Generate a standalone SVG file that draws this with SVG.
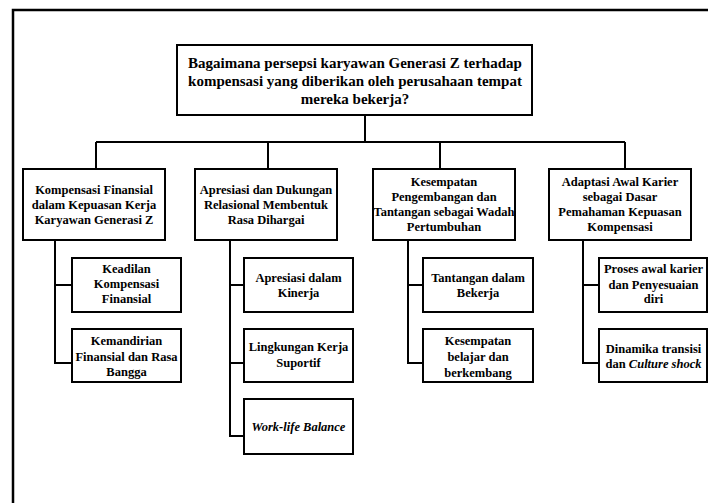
<svg xmlns="http://www.w3.org/2000/svg" width="708" height="503" viewBox="0 0 708 503">
<style>
  .box{fill:#fff;stroke:#000;stroke-width:2}
  .frame{fill:none;stroke:#000;stroke-width:2.5}
  .conn{fill:none;stroke:#000;stroke-width:2}
  text{font-family:"Liberation Serif","Times New Roman",serif;font-weight:bold;fill:#000;text-anchor:middle}
  .t0{font-size:15px}
  .t1{font-size:12.5px}
  .it{font-style:italic}
</style>
<rect width="708" height="503" fill="#fff"/>
<rect class="frame" x="13" y="10" width="720" height="520"/>
<g id="connectors">
  <path class="conn" d="M365 115V142M96 142H625M96 142V169M268 142V169M440 142V169M625 142V169"/>
  <path class="conn" d="M55 240V363H72M55 285H72"/>
  <path class="conn" d="M230 240V436H244M230 285H244M230 363H244"/>
  <path class="conn" d="M408 240V363H423M408 285H423"/>
  <path class="conn" d="M583 240V363H599M583 285H599"/>
</g>
<g id="root">
  <rect class="box" x="177" y="45" width="355" height="70"/>
  <text class="t0" x="355" y="68">Bagaimana persepsi karyawan Generasi Z terhadap</text>
  <text class="t0" x="355" y="86">kompensasi yang diberikan oleh perusahaan tempat</text>
  <text class="t0" x="355" y="104">mereka bekerja?</text>
</g>
<g id="n1">
  <rect class="box" x="23" y="169" width="142" height="71"/>
  <text class="t1" x="94" y="194">Kompensasi Finansial</text>
  <text class="t1" x="94" y="209">dalam Kepuasan Kerja</text>
  <text class="t1" x="94" y="224">Karyawan Generasi Z</text>
</g>
<g id="n2">
  <rect class="box" x="195" y="169" width="142" height="71"/>
  <text class="t1" x="266" y="194">Apresiasi dan Dukungan</text>
  <text class="t1" x="266" y="209">Relasional Membentuk</text>
  <text class="t1" x="266" y="224">Rasa Dihargai</text>
</g>
<g id="n3">
  <rect class="box" x="373" y="169" width="142" height="71"/>
  <text class="t1" x="444" y="186">Kesempatan</text>
  <text class="t1" x="444" y="201">Pengembangan dan</text>
  <text class="t1" x="444" y="216">Tantangan sebagai Wadah</text>
  <text class="t1" x="444" y="231">Pertumbuhan</text>
</g>
<g id="n4">
  <rect class="box" x="549" y="169" width="142" height="71"/>
  <text class="t1" x="620" y="186">Adaptasi Awal Karier</text>
  <text class="t1" x="620" y="201">sebagai Dasar</text>
  <text class="t1" x="620" y="216">Pemahaman Kepuasan</text>
  <text class="t1" x="620" y="231">Kompensasi</text>
</g>
<g id="n1a">
  <rect class="box" x="72" y="258" width="109" height="54"/>
  <text class="t1" x="126.5" y="273">Keadilan</text>
  <text class="t1" x="126.5" y="288">Kompensasi</text>
  <text class="t1" x="126.5" y="303">Finansial</text>
</g>
<g id="n1b">
  <rect class="box" x="72" y="329" width="109" height="53"/>
  <text class="t1" x="126.5" y="345">Kemandirian</text>
  <text class="t1" x="126.5" y="361">Finansial dan Rasa</text>
  <text class="t1" x="126.5" y="376">Bangga</text>
</g>
<g id="n2a">
  <rect class="box" x="244" y="258" width="109" height="54"/>
  <text class="t1" x="298.5" y="282">Apresiasi dalam</text>
  <text class="t1" x="298.5" y="297">Kinerja</text>
</g>
<g id="n2b">
  <rect class="box" x="244" y="329" width="109" height="53"/>
  <text class="t1" x="298.5" y="351">Lingkungan Kerja</text>
  <text class="t1" x="298.5" y="367">Suportif</text>
</g>
<g id="n2c">
  <rect class="box" x="244" y="399" width="109" height="55"/>
  <text class="t1 it" x="298.5" y="431">Work-life Balance</text>
</g>
<g id="n3a">
  <rect class="box" x="423" y="258" width="110" height="54"/>
  <text class="t1" x="478" y="282">Tantangan dalam</text>
  <text class="t1" x="478" y="297">Bekerja</text>
</g>
<g id="n3b">
  <rect class="box" x="423" y="329" width="110" height="53"/>
  <text class="t1" x="478" y="345">Kesempatan</text>
  <text class="t1" x="478" y="361">belajar dan</text>
  <text class="t1" x="478" y="377">berkembang</text>
</g>
<g id="n4a">
  <rect class="box" x="599" y="258" width="108" height="54"/>
  <text class="t1" x="653.5" y="273">Proses awal karier</text>
  <text class="t1" x="653.5" y="289">dan Penyesuaian</text>
  <text class="t1" x="653.5" y="303">diri</text>
</g>
<g id="n4b">
  <rect class="box" x="599" y="329" width="108" height="53"/>
  <text class="t1" x="653.5" y="353">Dinamika transisi</text>
  <text class="t1" x="653.5" y="368">dan <tspan class="it">Culture shock</tspan></text>
</g>
</svg>
